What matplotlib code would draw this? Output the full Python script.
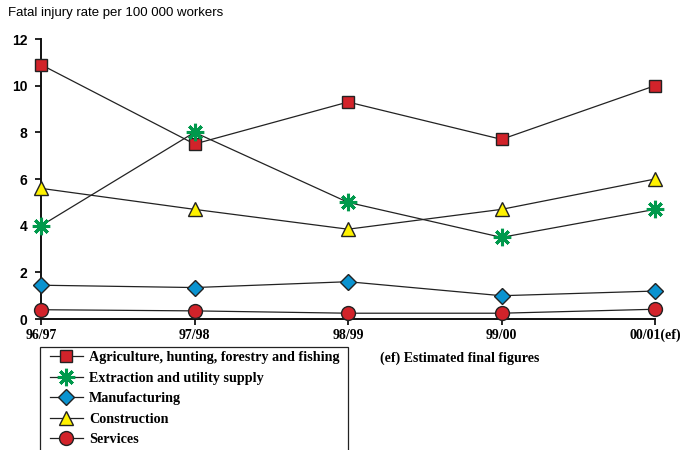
import matplotlib
matplotlib.use("Agg")
import matplotlib.pyplot as plt
from matplotlib.patches import Rectangle

# fatal injury rates per 100 000 workers, by industry
years = ["96/97", "97/98", "98/99", "99/00", "00/01(ef)"]
agriculture = [10.9, 7.5, 9.3, 7.7, 10.0]
extraction = [4.0, 8.0, 5.0, 3.5, 4.7]
manufacturing = [1.45, 1.35, 1.6, 1.0, 1.2]
construction = [5.6, 4.7, 3.85, 4.7, 6.0]
services = [0.4, 0.35, 0.25, 0.25, 0.42]

series = [
    ("Agriculture, hunting, forestry and fishing", agriculture,
     dict(marker="s", ms=8.5, mfc="#d2232a", mec="#222222", mew=1.0)),
    ("Extraction and utility supply", extraction,
     dict(marker=(8, 2, 0), ms=12.5, mfc="#00994c", mec="#00994c", mew=2.2)),
    ("Manufacturing", manufacturing,
     dict(marker="D", ms=8, mfc="#0a93d0", mec="#222222", mew=1.0)),
    ("Construction", construction,
     dict(marker="^", ms=10, mfc="#fff200", mec="#222222", mew=1.0)),
    ("Services", services,
     dict(marker="o", ms=10, mfc="#d2232a", mec="#222222", mew=1.0)),
]

serif = ["Liberation Serif", "DejaVu Serif"]

fig = plt.figure(figsize=(6.84, 4.5), dpi=100)
ax = fig.add_axes([0.06, 0.291, 0.8976, 0.6223])

x = list(range(len(years)))
for name, vals, style in series:
    ax.plot(x, vals, color="#222222", lw=0.9, label=name, clip_on=False,
            zorder=3, **style)

ax.set_xlim(0, 4)
ax.set_ylim(0, 12)
ax.set_yticks(range(0, 13, 2))
ax.set_yticklabels([str(v) for v in range(0, 13, 2)],
                   fontfamily="Liberation Sans", fontweight="bold", fontsize=10)
ax.set_xticks(x)
ax.set_xticklabels(years, fontfamily=serif, fontweight="bold", fontsize=10)

for side in ("top", "right"):
    ax.spines[side].set_visible(False)
for side in ("left", "bottom"):
    ax.spines[side].set_linewidth(1.4)
    ax.spines[side].set_color("#111111")
ax.tick_params(axis="y", length=4, width=1.2, pad=6)
ax.tick_params(axis="x", length=4, width=1.2, pad=3)

fig.text(0.012, 0.972, "Fatal injury rate per 100 000 workers",
         fontfamily="Liberation Sans", fontsize=9.5, va="center")

# legend box runs off the bottom edge, so draw the frame by hand
fig.patches.append(Rectangle((40 / 684, -0.05), 308 / 684, 0.05 + 1 - 347 / 450,
                             transform=fig.transFigure, fill=False,
                             edgecolor="#222222", lw=0.9))
leg = fig.legend(loc="upper left", bbox_to_anchor=(0.073, 0.219),
                 prop=dict(family=serif, weight="bold", size=10.2),
                 frameon=False, handlelength=2.3, labelspacing=0.52,
                 borderpad=0, handletextpad=0.45, borderaxespad=0)

fig.text(0.555, 0.203, "(ef) Estimated final figures",
         fontfamily=serif, fontweight="bold", fontsize=10, va="center")

fig.savefig("out.png", dpi=100)
